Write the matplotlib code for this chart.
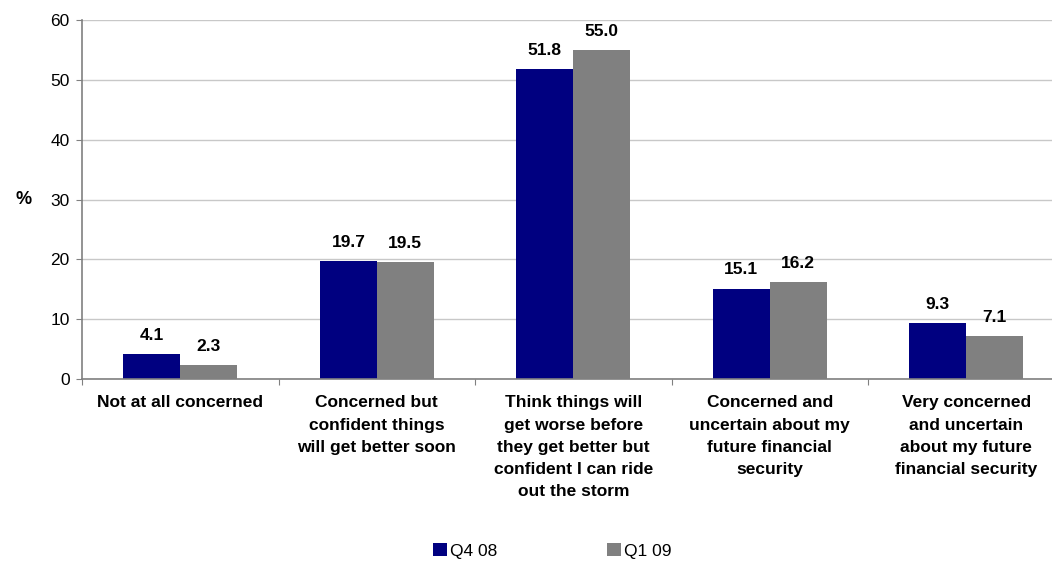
import matplotlib.pyplot as plt
import numpy as np

plt.rcParams['font.family'] = ['Liberation Sans', 'DejaVu Sans']

categories = [
    "Not at all concerned",
    "Concerned but\nconfident things\nwill get better soon",
    "Think things will\nget worse before\nthey get better but\nconfident I can ride\nout the storm",
    "Concerned and\nuncertain about my\nfuture financial\nsecurity",
    "Very concerned\nand uncertain\nabout my future\nfinancial security",
]
q4_08 = [4.1, 19.7, 51.8, 15.1, 9.3]
q1_09 = [2.3, 19.5, 55.0, 16.2, 7.1]
series_names = ["Q4 08", "Q1 09"]
yticks = [0, 10, 20, 30, 40, 50, 60]

fig = plt.figure(figsize=(10.52, 5.62), dpi=100)
ax = fig.add_axes([0.078, 0.326, 0.934, 0.638])

x = np.arange(len(categories))
w = 0.29
b1 = ax.bar(x - w / 2, q4_08, w, color="#000080", label=series_names[0], zorder=3)
b2 = ax.bar(x + w / 2, q1_09, w, color="#808080", label=series_names[1], zorder=3)

for bars in (b1, b2):
    for rect in bars:
        h = rect.get_height()
        ax.annotate(f"{h:.1f}", (rect.get_x() + rect.get_width() / 2, h),
                    xytext=(0, 8), textcoords="offset points",
                    ha="center", va="bottom", fontsize=12.5, fontweight="bold")

ax.set_xlim(-0.5, len(categories) - 0.5)
ax.set_ylim(0, 60)
ax.set_yticks(yticks)
ax.set_xticks(np.arange(len(categories) + 1) - 0.5, minor=False)
ax.set_xticklabels([])
ax.set_xticks(x, minor=True)
ax.set_xticklabels(categories, minor=True, fontsize=12.5, fontweight="bold",
                   linespacing=1.6)
ax.tick_params(axis="x", which="minor", length=0, pad=12)
ax.tick_params(axis="x", which="major", length=4, direction="out", color="#808080")
ax.tick_params(axis="y", length=4, color="#808080", labelsize=12.5, pad=5)

ax.grid(axis="y", color="#c8c8c8", linewidth=1, zorder=0)
for s in ["top", "right"]:
    ax.spines[s].set_visible(False)
for s in ["left", "bottom"]:
    ax.spines[s].set_color("#808080")
    ax.spines[s].set_linewidth(1.2)
    ax.spines[s].set_zorder(4)

ax.set_ylabel("%", rotation=0, fontsize=13, fontweight="bold", va="center")
ax.yaxis.set_label_coords(-0.06, 0.5)

fig.legend(handles=[b1, b2], labels=series_names, loc="center",
           bbox_to_anchor=(0.525, 0.02), ncol=2, frameon=False,
           fontsize=12.5, handlelength=0.8, handleheight=0.8,
           handletextpad=0.2, columnspacing=6.3)

fig.savefig("out.png", dpi=100)
